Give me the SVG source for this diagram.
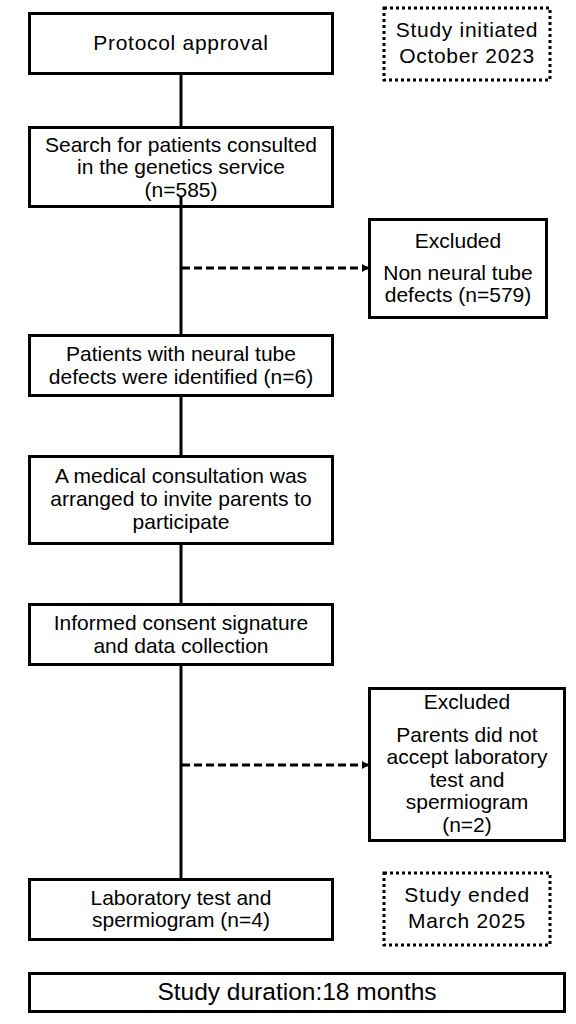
<svg xmlns="http://www.w3.org/2000/svg" width="576" height="1024" viewBox="0 0 576 1024">
  <defs>
    <style>
      .box { fill: #ffffff; stroke: #000000; stroke-width: 3; }
      .dot { fill: #ffffff; stroke: #000000; stroke-width: 3; stroke-dasharray: 3 3; }
      .line { stroke: #000000; stroke-width: 3; fill: none; }
      .dash { stroke: #000000; stroke-width: 3; stroke-dasharray: 8 4; fill: none; }
      text { font-family: "Liberation Sans", Arial, sans-serif; font-size: 21px; fill: #000000; text-anchor: middle; }
      .wide { letter-spacing: 0.7px; }
      .big { font-size: 24.5px; }
    </style>
    <marker id="arrow" markerWidth="8" markerHeight="8" refX="7" refY="4" orient="auto" markerUnits="userSpaceOnUse">
      <path d="M0,0 L7,4 L0,8 Z" fill="#000000"/>
    </marker>
  </defs>
  <rect width="576" height="1024" fill="#ffffff"/>

  <g id="connectors">
    <line class="line" x1="181" y1="73" x2="181" y2="127"/>
    <line class="line" x1="181" y1="196" x2="181" y2="335"/>
    <line class="line" x1="181" y1="396" x2="181" y2="456"/>
    <line class="line" x1="181" y1="544" x2="181" y2="604"/>
    <line class="line" x1="181" y1="665" x2="181" y2="879"/>
    <line class="dash" x1="182" y1="268" x2="369" y2="268" marker-end="url(#arrow)"/>
    <line class="dash" x1="182" y1="765" x2="369" y2="765" marker-end="url(#arrow)"/>
  </g>

  <g id="protocol">
    <rect class="box" x="29.5" y="13.5" width="303" height="60"/>
    <text class="wide" x="181" y="50">Protocol approval</text>
  </g>

  <g id="study-initiated">
    <rect class="dot" x="384" y="8" width="166" height="72"/>
    <text class="wide" x="467" y="37">Study initiated</text>
    <text class="wide" x="467" y="63">October 2023</text>
  </g>

  <g id="search">
    <rect class="box" x="29.5" y="127.5" width="303" height="79"/>
    <text x="181" y="152">Search for patients consulted</text>
    <text x="181" y="174">in the genetics service</text>
    <text x="181" y="197">(n=585)</text>
  </g>
  <line class="line" x1="181" y1="196" x2="181" y2="207"/>

  <g id="excluded-1">
    <rect class="box" x="369.5" y="219.5" width="177" height="98"/>
    <text x="458" y="248">Excluded</text>
    <text x="458" y="280">Non neural tube</text>
    <text x="458" y="302">defects (n=579)</text>
  </g>

  <g id="patients">
    <rect class="box" x="29.5" y="335.5" width="303" height="60"/>
    <text x="181" y="361">Patients with neural tube</text>
    <text x="181" y="384">defects were identified (n=6)</text>
  </g>

  <g id="consultation">
    <rect class="box" x="29.5" y="456.5" width="303" height="87"/>
    <text x="181" y="483">A medical consultation was</text>
    <text x="181" y="506">arranged to invite parents to</text>
    <text x="181" y="529">participate</text>
  </g>

  <g id="consent">
    <rect class="box" x="29.5" y="604.5" width="303" height="60"/>
    <text x="181" y="630">Informed consent signature</text>
    <text x="181" y="653">and data collection</text>
  </g>

  <g id="excluded-2">
    <rect class="box" x="369.5" y="688.5" width="195" height="152"/>
    <text x="467" y="709">Excluded</text>
    <text x="467" y="742">Parents did not</text>
    <text x="467" y="764">accept laboratory</text>
    <text x="467" y="787">test and</text>
    <text x="467" y="809">spermiogram</text>
    <text x="467" y="832">(n=2)</text>
  </g>

  <g id="laboratory">
    <rect class="box" x="29.5" y="879.5" width="303" height="60"/>
    <text x="181" y="905">Laboratory test and</text>
    <text x="181" y="927">spermiogram (n=4)</text>
  </g>

  <g id="study-ended">
    <rect class="dot" x="384" y="873" width="166" height="72"/>
    <text class="wide" x="467" y="902">Study ended</text>
    <text class="wide" x="467" y="928">March 2025</text>
  </g>

  <g id="duration">
    <rect class="box" x="29.5" y="973.5" width="535" height="38"/>
    <text class="big" x="297" y="1000">Study duration:18 months</text>
  </g>
</svg>
